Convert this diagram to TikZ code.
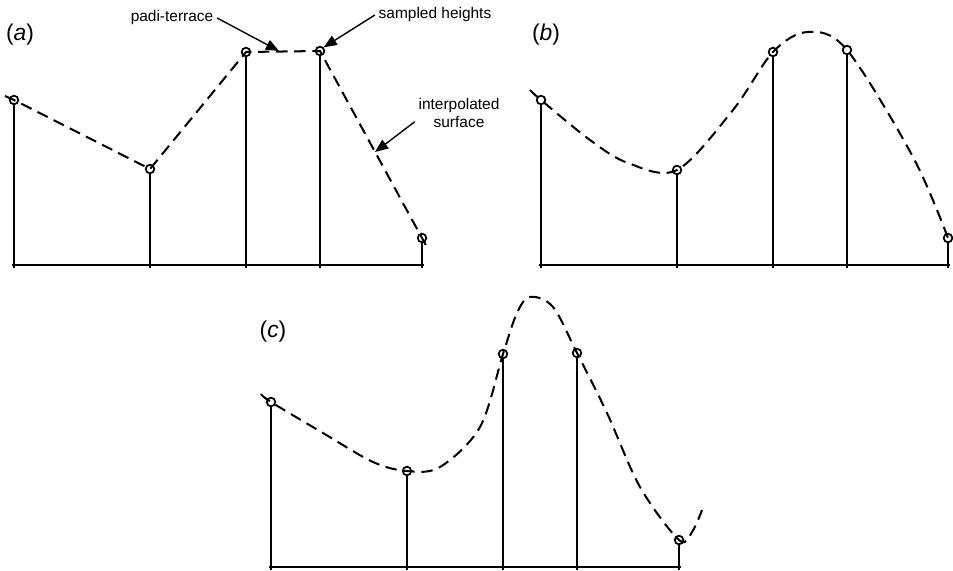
\documentclass[tikz,border=0pt]{standalone}
\usepackage{fontspec}
\setmainfont{Liberation Sans}
\usetikzlibrary{arrows.meta}

\begin{document}
\begin{tikzpicture}[x=0.02cm, y=-0.02cm,
  spot/.style={circle, draw, line width=1pt, inner sep=0pt, minimum size=4.9pt},
  stem/.style={line width=1.3pt},
  thinstem/.style={line width=0.85pt},
  groundline/.style={line width=1.3pt},
  interp/.style={dash pattern=on 6.5pt off 3.8pt, line width=1.15pt},
  callout/.style={-{Triangle[length=7.5pt, width=6pt]}, line width=0.8pt},
  note/.style={font=\fontsize{8.8}{10.5}\selectfont, align=center, inner sep=2pt},
  panel/.style={font=\fontsize{13}{15}\selectfont}]
  \useasboundingbox (0,0) rectangle (953,571);

  % --- Panel (a): linear interpolation ---
  \node[panel] (pa) at (20,35) {(\textit{a})};
  \node[spot] (a1) at (14,100) {};
  \node[spot] (a2) at (150,169) {};
  \node[spot] (a3) at (246,52) {};
  \node[spot] (a4) at (320,51) {};
  \node[spot] (a5) at (422,238) {};
  \draw[groundline] (12,265) -- (424,265);
  \draw[stem] (a1.south) -- (a1 |- 0,268);
  \draw[stem] (a2.south) -- (a2 |- 0,268);
  \draw[stem] (a3.south) -- (a3 |- 0,268);
  \draw[stem] (a4.south) -- (a4 |- 0,268);
  \draw[stem] (a5.south) -- (a5 |- 0,268);
  \draw[interp] (5,96) -- (a1.center) -- (a2.center) -- (a3.center)
       -- (a4.center) -- (a5.center) -- (427,247);
  % labels and arrows
  \node[note] (terrace) at (172,18) {padi-terrace};
  \node[note] (heights) at (435,15) {sampled heights};
  \node[note] (surface) at (459,113) {interpolated\\surface};
  \coordinate (flat) at (279,51);
  \coordinate (slope) at (375,152);
  \draw[callout] (terrace.east) -- (flat);
  \draw[callout] (heights.west) -- (a4.north east);
  \draw[callout] ([yshift=-5pt]surface.west) -- (slope);

  % --- Panel (b): smooth curve ---
  \node[panel] (pb) at (546,35) {(\textit{b})};
  \node[spot] (b1) at (541,100) {};
  \node[spot] (b2) at (677,170) {};
  \node[spot] (b3) at (773,52) {};
  \node[spot] (b4) at (847,50) {};
  \node[spot] (b5) at (948,238) {};
  \draw[groundline] (539,265) -- (950,265);
  \draw[stem] (b1.south) -- (b1 |- 0,268);
  \draw[stem] (b2.south) -- (b2 |- 0,268);
  \draw[stem] (b3.south) -- (b3 |- 0,268);
  \draw[thinstem] (b4.south) -- (b4 |- 0,268);
  \draw[stem] (b5.south) -- (b5 |- 0,268);
  \draw[interp] plot[smooth, tension=0.55] coordinates {(530,90) (b1.center)
       (590,140) (628,163) (b2.center) (733,110) (b3.center) (808,32)
       (b4.center) (913,157) (b5.center)};

  % --- Panel (c): smooth curve with overshoot ---
  \node[panel] (pc) at (273,332) {(\textit{c})};
  \node[spot] (c1) at (271,402) {};
  \node[spot] (c2) at (407,471) {};
  \node[spot] (c3) at (503,354) {};
  \node[spot] (c4) at (577,353) {};
  \node[spot] (c5) at (679,540) {};
  \draw[groundline] (269,567) -- (681,567);
  \draw[stem] (c1.south) -- (c1 |- 0,570);
  \draw[thinstem] (c2.south) -- (c2 |- 0,570);
  \draw[stem] (c3.south) -- (c3 |- 0,570);
  \draw[thinstem] (c4.south) -- (c4 |- 0,570);
  \draw[stem] (c5.south) -- (c5 |- 0,570);
  \draw[interp] plot[smooth, tension=0.55] coordinates {(261,394) (c1.center)
       (323,433) (373,462) (c2.center) (440,467) (480,427) (c3.center)
       (517,313) (530,297) (553,307) (c4.center) (607,413) (640,487)
       (c5.center) (692,532) (702,510)};
\end{tikzpicture}
\end{document}
